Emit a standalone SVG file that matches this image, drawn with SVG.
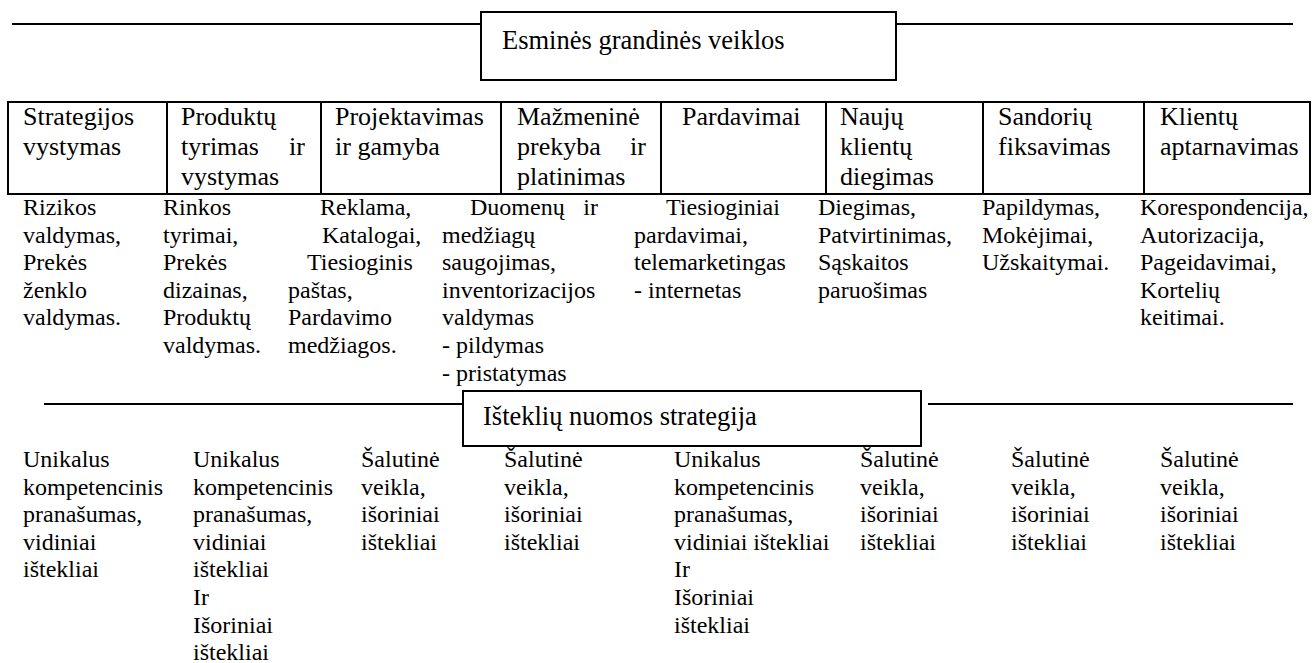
<svg xmlns="http://www.w3.org/2000/svg" width="1315" height="663" viewBox="0 0 1315 663">
  <style>
    text { font-family: "Liberation Serif", "Times New Roman", serif; fill: #000; }
    .title { font-size: 26.5px; }
    .head { font-size: 26px; }
    .body { font-size: 24px; }
    .rule { stroke: #000; stroke-width: 2; fill: none; }
    .box { stroke: #000; stroke-width: 2; fill: #fff; }
  </style>

  <!-- horizontal rules that lead into the two title boxes -->
  <g id="connectors">
    <line class="rule" x1="12" y1="24" x2="481" y2="24"/>
    <line class="rule" x1="896" y1="24" x2="1293" y2="24"/>
    <line class="rule" x1="44" y1="404" x2="463" y2="404"/>
    <line class="rule" x1="928" y1="404" x2="1293" y2="404"/>
  </g>

  <!-- title: core chain activities -->
  <g id="core-title">
    <rect class="box" x="481" y="12" width="415" height="68"/>
    <text class="title" x="502" y="49">Esminės grandinės veiklos</text>
  </g>

  <!-- table of activity headings -->
  <g id="activity-table">
    <rect class="box" x="8" y="102" width="1302" height="92"/>
    <line class="rule" x1="167" y1="102" x2="167" y2="194"/>
    <line class="rule" x1="321" y1="102" x2="321" y2="194"/>
    <line class="rule" x1="501" y1="102" x2="501" y2="194"/>
    <line class="rule" x1="661" y1="102" x2="661" y2="194"/>
    <line class="rule" x1="826" y1="102" x2="826" y2="194"/>
    <line class="rule" x1="983" y1="102" x2="983" y2="194"/>
    <line class="rule" x1="1144" y1="102" x2="1144" y2="194"/>
  </g>

  <g id="act-strategy" class="head">
    <text class="head" x="23" y="125">Strategijos</text>
    <text class="head" x="23" y="155">vystymas</text>
  </g>
  <g id="act-research">
    <text class="head" x="181" y="125">Produktų</text>
    <text class="head" x="181" y="155">tyrimas</text>
    <text class="head" x="305" y="155" text-anchor="end">ir</text>
    <text class="head" x="181" y="185">vystymas</text>
  </g>
  <g id="act-design">
    <text class="head" x="335" y="125">Projektavimas</text>
    <text class="head" x="335" y="155">ir gamyba</text>
  </g>
  <g id="act-retail">
    <text class="head" x="517" y="125">Mažmeninė</text>
    <text class="head" x="517" y="155">prekyba</text>
    <text class="head" x="646" y="155" text-anchor="end">ir</text>
    <text class="head" x="517" y="185">platinimas</text>
  </g>
  <g id="act-sales">
    <text class="head" x="682" y="125">Pardavimai</text>
  </g>
  <g id="act-onboarding">
    <text class="head" x="840" y="125">Naujų</text>
    <text class="head" x="840" y="155">klientų</text>
    <text class="head" x="840" y="185">diegimas</text>
  </g>
  <g id="act-transactions">
    <text class="head" x="998" y="125">Sandorių</text>
    <text class="head" x="998" y="155">fiksavimas</text>
  </g>
  <g id="act-service">
    <text class="head" x="1160" y="125">Klientų</text>
    <text class="head" x="1160" y="155">aptarnavimas</text>
  </g>

  <!-- task lists under each activity -->
  <g id="tasks-strategy">
    <text class="body" x="23" y="215">Rizikos</text>
    <text class="body" x="23" y="242.6">valdymas,</text>
    <text class="body" x="23" y="270.2">Prekės</text>
    <text class="body" x="23" y="297.8">ženklo</text>
    <text class="body" x="23" y="325.4">valdymas.</text>
  </g>
  <g id="tasks-research">
    <text class="body" x="163" y="215">Rinkos</text>
    <text class="body" x="163" y="242.6">tyrimai,</text>
    <text class="body" x="163" y="270.2">Prekės</text>
    <text class="body" x="163" y="297.8">dizainas,</text>
    <text class="body" x="163" y="325.4">Produktų</text>
    <text class="body" x="163" y="353">valdymas.</text>
  </g>
  <g id="tasks-design">
    <text class="body" x="320" y="215">Reklama,</text>
    <text class="body" x="322" y="242.6">Katalogai,</text>
    <text class="body" x="307" y="270.2">Tiesioginis</text>
    <text class="body" x="288" y="297.8">paštas,</text>
    <text class="body" x="288" y="325.4">Pardavimo</text>
    <text class="body" x="288" y="353">medžiagos.</text>
  </g>
  <g id="tasks-retail">
    <text class="body" x="470" y="215">Duomenų</text>
    <text class="body" x="598" y="215" text-anchor="end">ir</text>
    <text class="body" x="442" y="242.6">medžiagų</text>
    <text class="body" x="442" y="270.2">saugojimas,</text>
    <text class="body" x="442" y="297.8">inventorizacijos</text>
    <text class="body" x="442" y="325.4">valdymas</text>
    <text class="body" x="442" y="353">- pildymas</text>
    <text class="body" x="442" y="380.6">- pristatymas</text>
  </g>
  <g id="tasks-sales">
    <text class="body" x="666" y="215">Tiesioginiai</text>
    <text class="body" x="634" y="242.6">pardavimai,</text>
    <text class="body" x="634" y="270.2">telemarketingas</text>
    <text class="body" x="634" y="297.8">- internetas</text>
  </g>
  <g id="tasks-onboarding">
    <text class="body" x="818" y="215">Diegimas,</text>
    <text class="body" x="818" y="242.6">Patvirtinimas,</text>
    <text class="body" x="818" y="270.2">Sąskaitos</text>
    <text class="body" x="818" y="297.8">paruošimas</text>
  </g>
  <g id="tasks-transactions">
    <text class="body" x="982" y="215">Papildymas,</text>
    <text class="body" x="982" y="242.6">Mokėjimai,</text>
    <text class="body" x="982" y="270.2">Užskaitymai.</text>
  </g>
  <g id="tasks-service">
    <text class="body" x="1140" y="215">Korespondencija,</text>
    <text class="body" x="1140" y="242.6">Autorizacija,</text>
    <text class="body" x="1140" y="270.2">Pageidavimai,</text>
    <text class="body" x="1140" y="297.8">Kortelių</text>
    <text class="body" x="1140" y="325.4">keitimai.</text>
  </g>

  <!-- title: resource sourcing strategy -->
  <g id="sourcing-title">
    <rect class="box" x="463" y="391" width="458" height="55"/>
    <text class="title" x="483" y="425">Išteklių nuomos strategija</text>
  </g>

  <!-- sourcing choice per activity -->
  <g id="src-strategy">
    <text class="body" x="23" y="467">Unikalus</text>
    <text class="body" x="23" y="494.6">kompetencinis</text>
    <text class="body" x="23" y="522.2">pranašumas,</text>
    <text class="body" x="23" y="549.8">vidiniai</text>
    <text class="body" x="23" y="577.4">ištekliai</text>
  </g>
  <g id="src-research">
    <text class="body" x="193" y="467">Unikalus</text>
    <text class="body" x="193" y="494.6">kompetencinis</text>
    <text class="body" x="193" y="522.2">pranašumas,</text>
    <text class="body" x="193" y="549.8">vidiniai</text>
    <text class="body" x="193" y="577.4">ištekliai</text>
    <text class="body" x="193" y="605">Ir</text>
    <text class="body" x="193" y="632.6">Išoriniai</text>
    <text class="body" x="193" y="660.2">ištekliai</text>
  </g>
  <g id="src-design">
    <text class="body" x="361" y="467">Šalutinė</text>
    <text class="body" x="361" y="494.6">veikla,</text>
    <text class="body" x="361" y="522.2">išoriniai</text>
    <text class="body" x="361" y="549.8">ištekliai</text>
  </g>
  <g id="src-retail">
    <text class="body" x="504" y="467">Šalutinė</text>
    <text class="body" x="504" y="494.6">veikla,</text>
    <text class="body" x="504" y="522.2">išoriniai</text>
    <text class="body" x="504" y="549.8">ištekliai</text>
  </g>
  <g id="src-sales">
    <text class="body" x="674" y="467">Unikalus</text>
    <text class="body" x="674" y="494.6">kompetencinis</text>
    <text class="body" x="674" y="522.2">pranašumas,</text>
    <text class="body" x="674" y="549.8">vidiniai ištekliai</text>
    <text class="body" x="674" y="577.4">Ir</text>
    <text class="body" x="674" y="605">Išoriniai</text>
    <text class="body" x="674" y="632.6">ištekliai</text>
  </g>
  <g id="src-onboarding">
    <text class="body" x="860" y="467">Šalutinė</text>
    <text class="body" x="860" y="494.6">veikla,</text>
    <text class="body" x="860" y="522.2">išoriniai</text>
    <text class="body" x="860" y="549.8">ištekliai</text>
  </g>
  <g id="src-transactions">
    <text class="body" x="1011" y="467">Šalutinė</text>
    <text class="body" x="1011" y="494.6">veikla,</text>
    <text class="body" x="1011" y="522.2">išoriniai</text>
    <text class="body" x="1011" y="549.8">ištekliai</text>
  </g>
  <g id="src-service">
    <text class="body" x="1160" y="467">Šalutinė</text>
    <text class="body" x="1160" y="494.6">veikla,</text>
    <text class="body" x="1160" y="522.2">išoriniai</text>
    <text class="body" x="1160" y="549.8">ištekliai</text>
  </g>
</svg>
